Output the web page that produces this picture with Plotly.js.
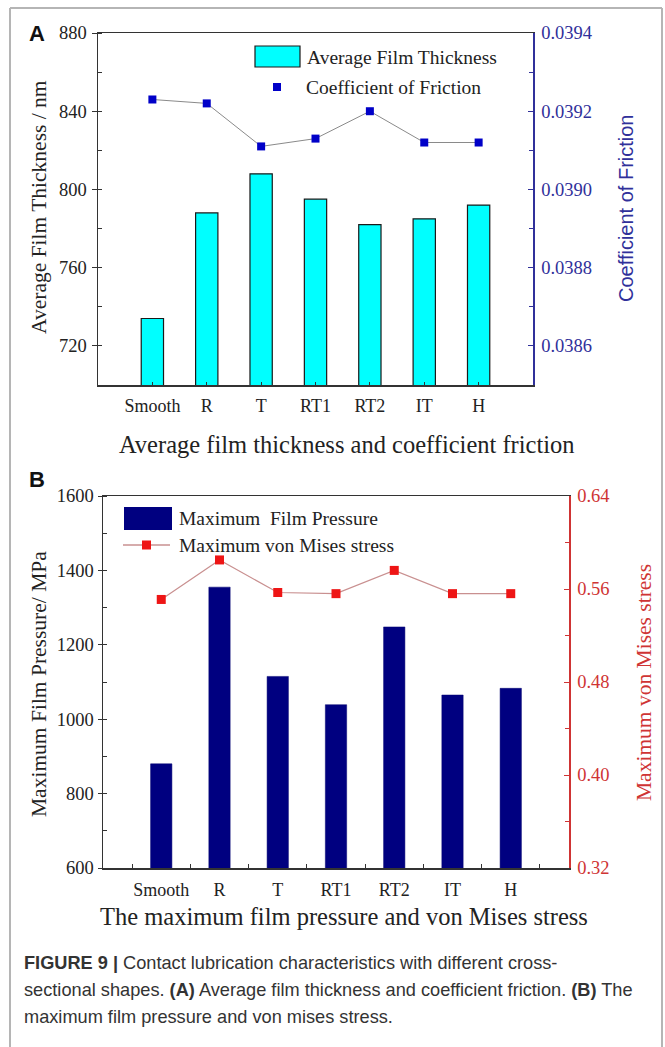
<!DOCTYPE html>
<html>
<head>
<meta charset="utf-8">
<script src="https://cdn.plot.ly/plotly-3.0.1.min.js"></script>
<style>
html,body{margin:0;padding:0;background:#fff;}
#chart{width:665px;height:1047px;}
</style>
</head>
<body>
<div id="chart"></div>
<script>
// ---- data ----
const categories = ['Smooth', 'R', 'T', 'RT1', 'RT2', 'IT', 'H'];
const filmThickness = [734, 788, 808, 795, 782, 785, 792];               // nm
const frictionCoef = [0.03923, 0.03922, 0.03911, 0.03913, 0.03920, 0.03912, 0.03912];
const filmPressure = [880, 1355, 1115, 1039, 1248, 1065, 1083];        // MPa
const misesStress = [0.551, 0.585, 0.557, 0.556, 0.576, 0.556, 0.556];

// ---- helpers (pixel -> paper) ----
const W = 665, H = 1047;
const px = x => x / W;
const py = y => 1 - y / H;

const SERIF = 'Liberation Serif, Times New Roman, serif';
const SANS = 'Liberation Sans, Arial, sans-serif';
const NAVY = '#30309a';
const RED = '#cf3434';
const AX = '#333333';

const traces = [
  {type: 'bar', x: categories, y: filmThickness, xaxis: 'x', yaxis: 'y', width: 0.41,
   marker: {color: '#00ffff', line: {color: '#1a1a1a', width: 1.2}}, name: 'Average Film Thickness', showlegend: false},
  {type: 'scatter', mode: 'lines+markers', x: categories, y: frictionCoef, xaxis: 'x', yaxis: 'y2',
   line: {color: '#8a8a8a', width: 1}, marker: {symbol: 'square', size: 8, color: '#0000c8'},
   name: 'Coefficient of Friction', showlegend: false},
  {type: 'bar', x: categories, y: filmPressure, xaxis: 'x2', yaxis: 'y3', width: 0.366,
   marker: {color: '#000080', line: {color: '#000070', width: 0.5}}, name: 'Maximum  Film Pressure', showlegend: false},
  {type: 'scatter', mode: 'lines+markers', x: categories, y: misesStress, xaxis: 'x2', yaxis: 'y4',
   line: {color: '#c99090', width: 1.2}, marker: {symbol: 'square', size: 9, color: '#ee1515'},
   name: 'Maximum von Mises stress', showlegend: false}
];

const tickFont = {family: SERIF, size: 18.5, color: '#222'};
const catFont = {family: SERIF, size: 18, color: '#222'};

const layout = {
  width: W, height: H,
  margin: {l: 0, r: 0, t: 0, b: 0},
  paper_bgcolor: '#fff', plot_bgcolor: 'rgba(0,0,0,0)',
  font: {family: SERIF, color: '#222'},
  showlegend: false,
  // ---- panel A ----
  xaxis: {domain: [px(98), px(533)], anchor: 'y', type: 'category', range: [-1, 7],
    showline: true, linecolor: AX, linewidth: 1.5, mirror: true, tickangle: 0,
    ticks: 'inside', ticklen: 3, tickcolor: AX, tickfont: catFont, ticklabelstandoff: 4,
    showgrid: false, zeroline: false, fixedrange: true},
  yaxis: {domain: [py(385), py(33)], anchor: 'x', range: [700, 880], dtick: 40, tick0: 0,
    showline: true, linecolor: AX, linewidth: 1.5,
    ticks: 'outside', ticklen: 5, tickcolor: AX, tickfont: tickFont, ticklabelstandoff: 1,
    minor: {dtick: 20, ticks: 'inside', ticklen: 4, tickcolor: AX},
    showgrid: false, zeroline: false},
  yaxis2: {overlaying: 'y', anchor: 'x', side: 'right', range: [0.0385, 0.0394], dtick: 0.0002, tick0: 0,
    tickformat: '.4f', showline: true, linecolor: NAVY, linewidth: 1.5,
    ticks: 'inside', ticklen: 5, tickcolor: NAVY, tickfont: {family: SERIF, size: 18.5, color: NAVY}, ticklabelstandoff: 3,
    minor: {dtick: 0.0001, ticks: 'inside', ticklen: 4, tickcolor: NAVY},
    showgrid: false, zeroline: false},
  // ---- panel B ----
  xaxis2: {domain: [px(103), px(569)], anchor: 'y3', type: 'category', range: [-1, 7],
    showline: true, linecolor: AX, linewidth: 1.5, mirror: true, tickangle: 0,
    ticks: 'inside', ticklen: 4, tickson: 'boundaries', tickcolor: AX, tickfont: catFont, ticklabelstandoff: 5,
    showgrid: false, zeroline: false},
  yaxis3: {domain: [py(868), py(496)], anchor: 'x2', range: [600, 1600], dtick: 200, tick0: 0,
    showline: true, linecolor: AX, linewidth: 1.5,
    ticks: 'outside', ticklen: 4, tickcolor: AX, tickfont: tickFont, ticklabelstandoff: 0,
    minor: {dtick: 100, ticks: 'inside', ticklen: 4, tickcolor: AX},
    showgrid: false, zeroline: false},
  yaxis4: {overlaying: 'y3', anchor: 'x2', side: 'right', range: [0.32, 0.64], dtick: 0.08, tick0: 0,
    tickformat: '.2f', showline: true, linecolor: RED, linewidth: 1.5,
    ticks: 'inside', ticklen: 5, tickcolor: RED, tickfont: {family: SERIF, size: 18.5, color: RED}, ticklabelstandoff: 3,
    minor: {dtick: 0.04, ticks: 'inside', ticklen: 4, tickcolor: RED},
    showgrid: false, zeroline: false},
  shapes: [
    // outer frame
    {type: 'line', xref: 'paper', yref: 'paper', x0: px(10), x1: px(10), y0: py(8), y1: -0.02, line: {color: '#b5b5b5', width: 2}},
    {type: 'line', xref: 'paper', yref: 'paper', x0: px(10), x1: px(662), y0: py(8), y1: py(8), line: {color: '#b5b5b5', width: 2}},
    {type: 'line', xref: 'paper', yref: 'paper', x0: px(662), x1: px(662), y0: py(8), y1: -0.02, line: {color: '#b5b5b5', width: 2}},
    // legend A swatches
    {type: 'rect', xref: 'paper', yref: 'paper', x0: px(255), x1: px(300), y0: py(67), y1: py(46), fillcolor: '#00ffff', line: {color: '#1a1a1a', width: 1.2}},
    {type: 'rect', xref: 'paper', yref: 'paper', x0: px(273), x1: px(281), y0: py(91), y1: py(83), fillcolor: '#0000c8', line: {width: 0}},
    // legend B swatches
    {type: 'rect', xref: 'paper', yref: 'paper', x0: px(124), x1: px(172), y0: py(530), y1: py(507), fillcolor: '#000080', line: {width: 0}},
    {type: 'line', xref: 'paper', yref: 'paper', x0: px(123), x1: px(170), y0: py(545), y1: py(545), line: {color: '#c99090', width: 1.5}},
    {type: 'rect', xref: 'paper', yref: 'paper', x0: px(142), x1: px(151), y0: py(549.5), y1: py(540.5), fillcolor: '#ee1515', line: {width: 0}}
  ],
  annotations: [
    // panel letters
    {text: '<b>A</b>', x: px(37), y: py(34), xref: 'paper', yref: 'paper', showarrow: false, xanchor: 'center', yanchor: 'middle', font: {family: SANS, size: 22, color: '#111'}},
    {text: '<b>B</b>', x: px(37), y: py(479), xref: 'paper', yref: 'paper', showarrow: false, xanchor: 'center', yanchor: 'middle', font: {family: SANS, size: 22, color: '#111'}},
    // axis titles A
    {text: 'Average Film Thickness / nm', x: px(39), y: py(207), xref: 'paper', yref: 'paper', textangle: -90, showarrow: false, xanchor: 'center', yanchor: 'middle', font: {family: SERIF, size: 21.5, color: '#222'}},
    {text: 'Coefficient of Friction', x: px(626), y: py(208), xref: 'paper', yref: 'paper', textangle: -90, showarrow: false, xanchor: 'center', yanchor: 'middle', font: {family: SANS, size: 20, color: NAVY}},
    {text: 'Average film thickness and coefficient friction', x: px(347), y: py(445), xref: 'paper', yref: 'paper', showarrow: false, xanchor: 'center', yanchor: 'middle', font: {family: SERIF, size: 24.5, color: '#222'}},
    // axis titles B
    {text: 'Maximum Film Pressure/ MPa', x: px(39), y: py(684), xref: 'paper', yref: 'paper', textangle: -90, showarrow: false, xanchor: 'center', yanchor: 'middle', font: {family: SERIF, size: 21.5, color: '#222'}},
    {text: 'Maximum von Mises stress', x: px(644), y: py(683), xref: 'paper', yref: 'paper', textangle: -90, showarrow: false, xanchor: 'center', yanchor: 'middle', font: {family: SERIF, size: 21.5, color: RED}},
    {text: 'The maximum film pressure and von Mises stress', x: px(344), y: py(916), xref: 'paper', yref: 'paper', showarrow: false, xanchor: 'center', yanchor: 'middle', font: {family: SERIF, size: 24.5, color: '#222'}},
    // legend text A
    {text: 'Average Film Thickness', x: px(305), y: py(57), xref: 'paper', yref: 'paper', showarrow: false, xanchor: 'left', yanchor: 'middle', font: {family: SERIF, size: 19.5, color: '#222'}},
    {text: 'Coefficient of Friction', x: px(304), y: py(87), xref: 'paper', yref: 'paper', showarrow: false, xanchor: 'left', yanchor: 'middle', font: {family: SERIF, size: 19.5, color: '#222'}},
    // legend text B
    {text: 'Maximum  Film Pressure', x: px(177), y: py(518), xref: 'paper', yref: 'paper', showarrow: false, xanchor: 'left', yanchor: 'middle', font: {family: SERIF, size: 19.5, color: '#222'}},
    {text: 'Maximum von Mises stress', x: px(177), y: py(545), xref: 'paper', yref: 'paper', showarrow: false, xanchor: 'left', yanchor: 'middle', font: {family: SERIF, size: 19.5, color: '#222'}},
    // caption
    {text: '<b>FIGURE 9 |</b> Contact lubrication characteristics with different cross-', x: px(22), y: py(963), xref: 'paper', yref: 'paper', showarrow: false, xanchor: 'left', yanchor: 'middle', font: {family: SANS, size: 18.2, color: '#333'}},
    {text: 'sectional shapes. <b>(A)</b> Average film thickness and coefficient friction. <b>(B)</b> The', x: px(22), y: py(990), xref: 'paper', yref: 'paper', showarrow: false, xanchor: 'left', yanchor: 'middle', font: {family: SANS, size: 18.2, color: '#333'}},
    {text: 'maximum film pressure and von mises stress.', x: px(22), y: py(1017), xref: 'paper', yref: 'paper', showarrow: false, xanchor: 'left', yanchor: 'middle', font: {family: SANS, size: 18.2, color: '#333'}}
  ]
};

Plotly.newPlot('chart', traces, layout, {staticPlot: true, displayModeBar: false});
</script>
</body>
</html>
